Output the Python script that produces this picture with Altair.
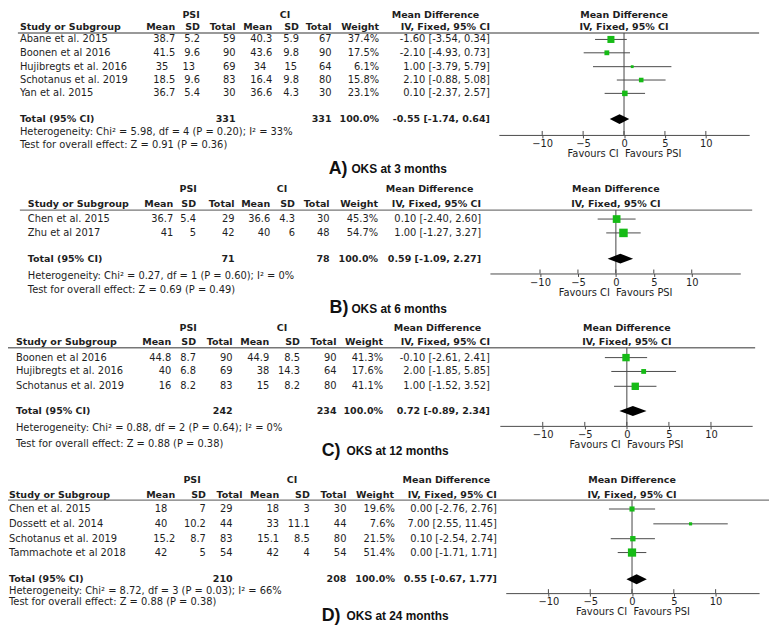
import altair as alt
import pandas as pd

# ---------------- data ----------------
A_study = ["Abane et al. 2015", "Boonen et al 2016", "Hujibregts et al. 2016",
           "Schotanus et al. 2019", "Yan et al. 2015"]
A_psi_mean = [38.7, 41.5, 35, 18.5, 36.7]
A_psi_sd = [5.2, 9.6, 13, 9.6, 5.4]
A_psi_n = [59, 90, 69, 83, 30]
A_ci_mean = [40.3, 43.6, 34, 16.4, 36.6]
A_ci_sd = [5.9, 9.8, 15, 9.8, 4.3]
A_ci_n = [67, 90, 64, 80, 30]
A_weight = [37.4, 17.5, 6.1, 15.8, 23.1]
A_md = [-1.60, -2.10, 1.00, 2.10, 0.10]
A_lo = [-3.54, -4.93, -3.79, -0.88, -2.37]
A_hi = [0.34, 0.73, 5.79, 5.08, 2.57]
A_total = [331, 331]
A_pooled = [-0.55, -1.74, 0.64]
A_het = "Heterogeneity: Chi² = 5.98, df = 4 (P = 0.20); I² = 33%"
A_test = "Test for overall effect: Z = 0.91 (P = 0.36)"

B_study = ["Chen et al. 2015", "Zhu et al 2017"]
B_psi_mean = [36.7, 41]
B_psi_sd = [5.4, 5]
B_psi_n = [29, 42]
B_ci_mean = [36.6, 40]
B_ci_sd = [4.3, 6]
B_ci_n = [30, 48]
B_weight = [45.3, 54.7]
B_md = [0.10, 1.00]
B_lo = [-2.40, -1.27]
B_hi = [2.60, 3.27]
B_total = [71, 78]
B_pooled = [0.59, -1.09, 2.27]
B_het = "Heterogeneity: Chi² = 0.27, df = 1 (P = 0.60); I² = 0%"
B_test = "Test for overall effect: Z = 0.69 (P = 0.49)"

C_study = ["Boonen et al 2016", "Hujibregts et al. 2016", "Schotanus et al. 2019"]
C_psi_mean = [44.8, 40, 16]
C_psi_sd = [8.7, 6.8, 8.2]
C_psi_n = [90, 69, 83]
C_ci_mean = [44.9, 38, 15]
C_ci_sd = [8.5, 14.3, 8.2]
C_ci_n = [90, 64, 80]
C_weight = [41.3, 17.6, 41.1]
C_md = [-0.10, 2.00, 1.00]
C_lo = [-2.61, -1.85, -1.52]
C_hi = [2.41, 5.85, 3.52]
C_total = [242, 234]
C_pooled = [0.72, -0.89, 2.34]
C_het = "Heterogeneity: Chi² = 0.88, df = 2 (P = 0.64); I² = 0%"
C_test = "Test for overall effect: Z = 0.88 (P = 0.38)"

D_study = ["Chen et al. 2015", "Dossett et al. 2014", "Schotanus et al. 2019",
           "Tammachote et al 2018"]
D_psi_mean = [18, 40, 15.2, 42]
D_psi_sd = [7, 10.2, 8.7, 5]
D_psi_n = [29, 44, 83, 54]
D_ci_mean = [18, 33, 15.1, 42]
D_ci_sd = [3, 11.1, 8.5, 4]
D_ci_n = [30, 44, 80, 54]
D_weight = [19.6, 7.6, 21.5, 51.4]
D_md = [0.00, 7.00, 0.10, 0.00]
D_lo = [-2.76, 2.55, -2.54, -1.71]
D_hi = [2.76, 11.45, 2.74, 1.71]
D_total = [210, 208]
D_pooled = [0.55, -0.67, 1.77]
D_het = "Heterogeneity: Chi² = 8.72, df = 3 (P = 0.03); I² = 66%"
D_test = "Test for overall effect: Z = 0.88 (P = 0.38)"

TOTAL_WEIGHT = 100.0
PANEL_LABELS = ["A)", "B)", "C)", "D)"]
PANEL_TITLES = ["OKS at 3 months", "OKS at 6 months", "OKS at 12 months", "OKS at 24 months"]
HEAD1 = ["PSI", "CI", "Mean Difference"]
HEAD2 = ["Mean", "SD", "Total", "Mean", "SD", "Total", "Weight", "IV, Fixed, 95% CI"]
TICKS = [-10, -5, 0, 5, 10]
AXIS_TITLE = "Favours CI\u00a0 Favours PSI"

PANELS = []
for pre in "ABCD":
    g = globals()
    PANELS.append(dict(
        study=g[pre + "_study"], psi_mean=g[pre + "_psi_mean"], psi_sd=g[pre + "_psi_sd"],
        psi_n=g[pre + "_psi_n"], ci_mean=g[pre + "_ci_mean"], ci_sd=g[pre + "_ci_sd"],
        ci_n=g[pre + "_ci_n"], weight=g[pre + "_weight"], md=g[pre + "_md"],
        lo=g[pre + "_lo"], hi=g[pre + "_hi"], total=g[pre + "_total"],
        pooled=g[pre + "_pooled"], het=g[pre + "_het"], test=g[pre + "_test"]))

# ---------------- layout / style (pixel positions in the page) ----------------
W, H, OFF = 769, 623, 8
FONT = "DejaVu Sans"
TFONT = "Liberation Sans"
TXT = "#1e1e1e"
LINE = "#4a4a4a"
GREEN = "#16bb16"

LAYOUT = [
    dict(h1=12, h2=24, hline=30, rows=[36.5, 50, 64, 77.5, 91], total=117, het=130, test=143,
         axis=133, title_y=172, title_x=332, sub_x=355, study_x=20,
         cols=[177, 202, 238, 275, 302, 335, 383, 495],
         hcols=[177, 202, 238, 275, 302, 335, 383, 495],
         int_shift=[7, 5, 0, 6, 2, 0, 0, 0],
         psi_c=193, ci_c=288, md_c=440,
         hline_x=(18, 767), rng=(504, 757), dom=(-15.3, 15.3)),
    dict(h1=188, h2=203, hline=209, rows=[218, 232], total=258, het=276, test=290,
         axis=273, title_y=313, title_x=333, sub_x=355, study_x=28,
         cols=[175, 198, 237, 273, 298, 333, 382, 486],
         hcols=[175, 198, 237, 273, 298, 333, 382, 486],
         int_shift=[0, 0, 0, 0, 0, 0, 0, 0],
         psi_c=190, ci_c=285, md_c=434,
         hline_x=(20, 760), rng=(495, 748), dom=(-16.6, 16.4)),
    dict(h1=328, h2=342, hline=348, rows=[358, 372, 387], total=412, het=429, test=445,
         axis=427, title_y=457, title_x=325, sub_x=350, study_x=16,
         cols=[173, 198, 235, 272, 303, 340, 387, 495],
         hcols=[173, 198, 235, 272, 303, 340, 387, 495],
         int_shift=[0, 0, 0, 0, 0, 0, 0, 0],
         psi_c=190, ci_c=285, md_c=442,
         hline_x=(0, 763), rng=(505, 760), dom=(-15.1, 14.9)),
    dict(h1=482, h2=497, hline=502, rows=[511, 526, 541, 555], total=582, het=594, test=605,
         axis=596, title_y=624, title_x=325, sub_x=350, study_x=9,
         cols=[177, 208, 235, 282, 313, 350, 399, 502],
         hcols=[177, 208, 245, 282, 313, 350, 398, 502],
         int_shift=[8, 0, 0, 0, 0, 0, 0, 0],
         psi_c=194, ci_c=295, md_c=451,
         hline_x=(0, 777), rng=(511, 767), dom=(-15.1, 15.2)),
]


def fmt(v):
    return f"{v:g}"


def ci_text(m, l, h):
    return f"{m:.2f} [{l:.2f}, {h:.2f}]"


# ---------------- text cells ----------------
cells = []


def add(x, y, t, s):
    cells.append(dict(x=x - OFF, y=y - OFF, t=t, s=s))


hlines = []
for P, L in zip(PANELS, LAYOUT):
    c = L["cols"]
    add(L["psi_c"], L["h1"], HEAD1[0], "cb")
    add(L["ci_c"], L["h1"], HEAD1[1], "cb")
    add(L["md_c"], L["h1"], HEAD1[2], "cb")
    add(L["study_x"], L["h2"], "Study or Subgroup", "lb")
    for x, t in zip(L["hcols"], HEAD2):
        add(x, L["h2"], t, "rb")
    for i, y in enumerate(L["rows"]):
        add(L["study_x"], y, P["study"][i], "lr")
        raw = [P["psi_mean"][i], P["psi_sd"][i], P["psi_n"][i],
               P["ci_mean"][i], P["ci_sd"][i], P["ci_n"][i]]
        vals = [fmt(v) for v in raw] + [f"{P['weight'][i]:.1f}%",
                                         ci_text(P["md"][i], P["lo"][i], P["hi"][i])]
        for j, (x, t) in enumerate(zip(c, vals)):
            shift = L["int_shift"][j] if (j < 6 and float(raw[j]).is_integer()) else 0
            add(x - shift, y, t, "rr")
    add(L["study_x"], L["total"], "Total (95% CI)", "lb")
    add(c[2], L["total"], str(P["total"][0]), "rb")
    add(c[5], L["total"], str(P["total"][1]), "rb")
    add(c[6], L["total"], f"{TOTAL_WEIGHT:.1f}%", "rb")
    add(c[7], L["total"], ci_text(*P["pooled"]), "rb")
    add(L["study_x"], L["het"], P["het"], "lr")
    add(L["study_x"], L["test"], P["test"], "lr")
    hlines.append(dict(x=L["hline_x"][0] - OFF, x2=L["hline_x"][1] - OFF, y=L["hline"] - OFF))

title_big = pd.DataFrame([dict(x=L["title_x"] - OFF, y=L["title_y"] - OFF, t=lab)
                          for L, lab in zip(LAYOUT, PANEL_LABELS)])
title_sub = pd.DataFrame([dict(x=L["sub_x"] - OFF, y=L["title_y"] - OFF - 0.5, t=tt)
                          for L, tt in zip(LAYOUT, PANEL_TITLES)])

cells_df = pd.DataFrame(cells)
XS_ID = alt.Scale(domain=[0, W], range=[0, W], nice=False, zero=False)
YS = alt.Scale(domain=[0, H], range=[0, H], nice=False, zero=False)


def Y(f):
    return alt.Y(f, type="quantitative", scale=YS, axis=None)


def XI(f):
    return alt.X(f, type="quantitative", scale=XS_ID, axis=None)


text_layers = []
for s, align, bold in [("lr", "left", False), ("lb", "left", True),
                       ("rr", "right", False), ("rb", "right", True), ("cb", "center", True)]:
    d = cells_df[cells_df.s == s]
    text_layers.append(
        alt.Chart(d).mark_text(align=align, baseline="middle", font=FONT,
                               fontSize=9.6 if bold else 10,
                               fontWeight="bold" if bold else "normal", color=TXT)
        .encode(x=XI("x"), y=Y("y"), text="t:N"))

hline_layer = alt.Chart(pd.DataFrame(hlines)).mark_rule(color="#777777", strokeWidth=1.4).encode(
    x=XI("x"), x2="x2", y=Y("y"))
big_layer = alt.Chart(title_big).mark_text(align="left", baseline="alphabetic", font=TFONT,
                                           fontSize=18, fontWeight="bold", color="#111111").encode(
    x=XI("x"), y=Y("y"), text="t:N")
sub_layer = alt.Chart(title_sub).mark_text(align="left", baseline="alphabetic", font=TFONT,
                                           fontSize=12, fontWeight="bold", color="#111111").encode(
    x=XI("x"), y=Y("y"), text="t:N")

text_group = alt.layer(hline_layer, *text_layers, big_layer, sub_layer)

SIZE = alt.Size("w:Q", scale=alt.Scale(domain=[0, 100], range=[0, 135]), legend=None)


def forest(P, L):
    sc = alt.Scale(domain=list(L["dom"]), range=[L["rng"][0] - OFF, L["rng"][1] - OFF],
                   nice=False, zero=False)
    ax = alt.Axis(orient="bottom", offset=(L["axis"] - OFF) - H, values=TICKS,
                  title=AXIS_TITLE, grid=False, domainColor=LINE, domainWidth=1,
                  tickColor=LINE, tickSize=3, labelFont=FONT, labelFontSize=10,
                  labelColor=TXT, labelPadding=1, labelFlush=False, labelOverlap=False,
                  titleFont=FONT, titleFontSize=10, titleFontWeight="normal",
                  titleColor=TXT, titlePadding=0)

    def X(f):
        return alt.X(f, type="quantitative", scale=sc, axis=ax)

    studies = pd.DataFrame(dict(md=P["md"], lo=P["lo"], hi=P["hi"], w=P["weight"],
                                y=[r - OFF for r in L["rows"]]))
    m, l, h = P["pooled"]
    t = L["total"] - OFF
    diamond = pd.DataFrame(dict(x=[l, m, h], y=[t, t - 5, t], y2=[t, t + 5, t]))
    zero = pd.DataFrame(dict(x=[0], y=[L["hline"] - OFF], y2=[L["axis"] - OFF]))
    ticks = pd.DataFrame(dict(v=TICKS, y=[L["axis"] - OFF - 4] * len(TICKS),
                              y2=[L["axis"] - OFF] * len(TICKS)))
    heads = pd.DataFrame(dict(x=[0, 0], y=[L["h1"] - OFF, L["h2"] - OFF],
                              t=["Mean Difference", "IV, Fixed, 95% CI"]))

    zl = alt.Chart(zero).mark_rule(color="#444444", strokeWidth=1).encode(
        x=X("x"), y=Y("y"), y2="y2")
    tl = alt.Chart(ticks).mark_rule(color=LINE, strokeWidth=1).encode(
        x=X("v"), y=Y("y"), y2="y2")
    cl = alt.Chart(studies).mark_rule(color=LINE, strokeWidth=1).encode(
        x=X("lo"), x2="hi", y=Y("y"))
    sq = alt.Chart(studies).mark_square(filled=True, color=GREEN, opacity=1).encode(
        x=X("md"), y=Y("y"), size=SIZE)
    dm = alt.Chart(diamond).mark_area(color="black", opacity=1, orient="vertical").encode(
        x=X("x"), y=Y("y"), y2="y2")
    hd = alt.Chart(heads).mark_text(align="center", baseline="middle", font=FONT,
                                    fontSize=9.6, fontWeight="bold", color=TXT).encode(
        x=X("x"), y=Y("y"), text="t:N")
    return alt.layer(zl, tl, cl, sq, dm, hd)


forests = [forest(P, L) for P, L in zip(PANELS, LAYOUT)]

chart = alt.layer(text_group, *forests).resolve_scale(x="independent").properties(
    width=W, height=H, autosize=alt.AutoSizeParams(type="none"), padding=0
).configure_view(stroke=None)

chart.save("out.html", embed_options={"renderer": "svg", "actions": False})
